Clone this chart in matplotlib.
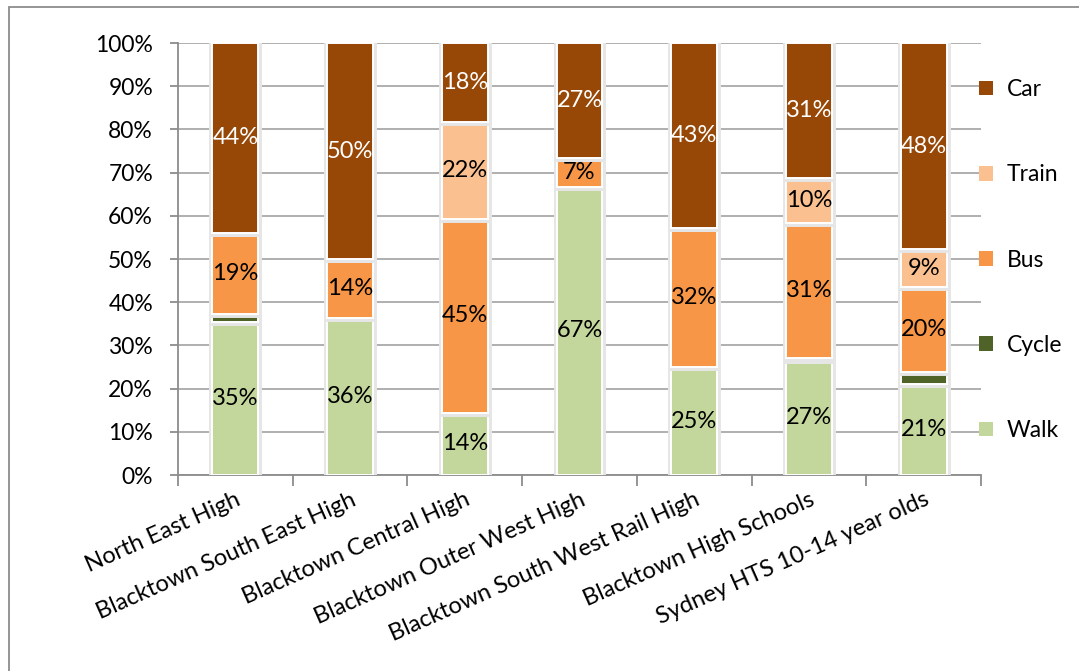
import matplotlib
matplotlib.use("Agg")
import matplotlib.pyplot as plt
import matplotlib.patheffects as pe
from matplotlib.patches import Rectangle, Patch
import numpy as np

plt.rcParams['font.family'] = ['Lato', 'DejaVu Sans']

schools = [
    "North East High",
    "Blacktown South East High",
    "Blacktown Central High",
    "Blacktown Outer West High",
    "Blacktown South West Rail High",
    "Blacktown High Schools",
    "Sydney HTS 10-14 year olds",
]

# mode share (%) per school, stacked bottom to top
walk = [35.4, 36.4, 14.4, 66.7, 25.0, 26.6, 21.0]
cycle = [1.9, 0.0, 0.0, 0.0, 0.0, 0.4, 2.8]
bus = [18.8, 13.6, 44.9, 6.7, 32.2, 31.3, 19.7]
train = [0.0, 0.0, 22.4, 0.0, 0.0, 10.4, 8.8]
car = [43.9, 50.0, 18.3, 26.6, 42.8, 31.3, 47.7]

modes = ["Walk", "Cycle", "Bus", "Train", "Car"]
series = [walk, cycle, bus, train, car]
colors = ["#C3D69B", "#4F6228", "#F79646", "#FAC090", "#974706"]
label_colors = ["black", "white", "black", "black", "white"]

W, H = 1079, 671
fig = plt.figure(figsize=(W / 100, H / 100), dpi=100)

# outer chart frame
fig.patches.append(Rectangle((9 / W, -0.05), 1.2, 1 - 7 / H + 0.05,
                             transform=fig.transFigure, fill=False,
                             edgecolor="#8C8C8C", linewidth=1.3))

ax = fig.add_axes([178 / W, 1 - 475 / H, (981 - 178) / W, (475 - 43) / H])

x = np.arange(len(schools))
bottom = np.zeros(len(schools))
for vals, name, col, lcol in zip(series, modes, colors, label_colors):
    vals = np.array(vals)
    bars = ax.bar(x, vals, width=0.4, bottom=bottom, color=col,
                  edgecolor="white", linewidth=1.4, zorder=3)
    for b in bars:
        b.set_path_effects([pe.withStroke(linewidth=5, foreground="#E6E6E6"),
                            pe.Normal()])
    for xi, v, b0 in zip(x, vals, bottom):
        if name != "Cycle" and v >= 5:
            ax.text(xi, b0 + v / 2, f"{v:.0f}%", ha="center", va="center",
                    color=lcol, fontsize=17, zorder=5)
    bottom += vals

ax.set_xlim(-0.5, len(schools) - 0.5)
ax.set_ylim(0, 100)
ax.set_yticks(np.arange(0, 101, 10))
ax.set_yticklabels([f"{t}%" for t in range(0, 101, 10)], fontsize=16.5)
ax.yaxis.grid(True, color="#9A9A9A", linewidth=1.1, zorder=0)
ax.set_axisbelow(True)

ax.set_xticks(x)
ax.set_xticklabels(schools, rotation=24, ha="right", rotation_mode="anchor",
                   fontsize=17)
ax.tick_params(axis="x", length=0, pad=10)
ax.set_xticks(np.arange(-0.5, len(schools)), minor=True)
ax.tick_params(axis="x", which="minor", length=8, width=1.3, color="#8C8C8C")
ax.tick_params(axis="y", length=6, width=1.3, color="#8C8C8C", pad=12)

for s in ["top", "right"]:
    ax.spines[s].set_visible(False)
for s in ["left", "bottom"]:
    ax.spines[s].set_color("#8C8C8C")
    ax.spines[s].set_linewidth(1.3)

handles = [Patch(facecolor=c, edgecolor="none") for c in colors]
ax.legend(handles[::-1], modes[::-1], loc="upper left",
          bbox_to_anchor=(0.998, 0.916), frameon=False, fontsize=16.5,
          handlelength=0.6, handleheight=0.6, handletextpad=0.6,
          labelspacing=2.8, borderaxespad=0, borderpad=0)

fig.savefig("out.png", dpi=100)
